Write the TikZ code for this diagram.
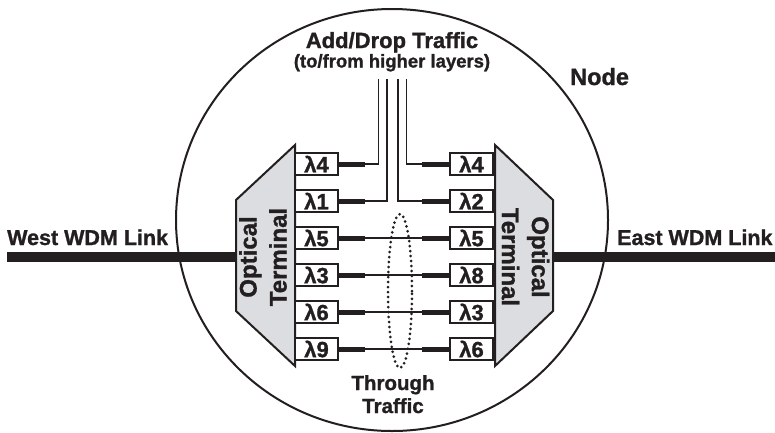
\documentclass[tikz,border=0pt]{standalone}
\usepackage{fontspec}
\setmainfont{Liberation Sans}[BoldFeatures={FakeBold=1.2}]
\definecolor{ink}{HTML}{231F20}
\definecolor{termgray}{HTML}{DCDDE0}
\tikzset{
  ink line/.style={draw=ink},
  nodecircle/.style={ink line, line width=2pt},
  wdmbar/.style={ink line, line width=10pt},
  termshape/.style={ink line, fill=termgray, line width=2pt, line join=miter},
  lambdabox/.style={draw=ink, fill=white, line width=2pt, minimum width=43pt,
    minimum height=22pt, inner sep=0pt, text=ink,
    font=\bfseries\fontsize{22}{22}\selectfont},
  stub/.style={ink line, line width=5pt},
  fiber/.style={ink line, line width=1.2pt},
  thrloop/.style={ink line, line width=3pt, dash pattern=on 0pt off 5pt, line cap=round},
  label/.style={text=ink, inner sep=0pt},
  termtext/.style={text=ink, inner sep=0pt, align=center,
    font=\bfseries\fontsize{24}{30}\selectfont},
}
\begin{document}
\begin{tikzpicture}[x=1pt,y=-1pt]
\useasboundingbox (0,0) rectangle (775,432);

% the node boundary
\draw[nodecircle] (392,220) ellipse [x radius=216pt, y radius=211pt];

% WDM links
\coordinate (westend) at (7,257);
\coordinate (eastend) at (775,257);
\coordinate (westterm) at (236,257);
\coordinate (eastterm) at (553,257);
\draw[wdmbar] (westend) -- (westterm);
\draw[wdmbar] (eastterm) -- (eastend);

% optical terminals
\draw[termshape] (295,145) -- (295,366) -- (236,311) -- (236,200) -- cycle;
\draw[termshape] (495,145) -- (553,200) -- (553,311) -- (495,366) -- cycle;
\node[termtext, rotate=90] (tl) at (263,257) {Optical\\Terminal};
\node[termtext, rotate=-90] (tr) at (525.5,257) {Optical\\Terminal};

% transponders, west side
\foreach \i/\w/\y in {1/4/164, 2/1/201, 3/5/238, 4/3/275, 5/6/312, 6/9/349} {
  \node[lambdabox] (L\i) at (316.5,\y) {λ\w};
  \coordinate (lj\i) at (365,\y);
  \draw[stub] (L\i.east) -- (lj\i);
}
% transponders, east side
\foreach \i/\w/\y in {1/4/164, 2/2/201, 3/5/238, 4/8/275, 5/3/312, 6/6/349} {
  \node[lambdabox] (R\i) at (471.5,\y) {λ\w};
  \coordinate (rj\i) at (422,\y);
  \draw[stub] (rj\i) -- (R\i.west);
}

% add/drop fibres going up
\coordinate (ad1) at (378.5,79);
\coordinate (ad2) at (387,79);
\coordinate (ad3) at (398,79);
\coordinate (ad4) at (406.5,79);
\draw[fiber] (lj1) -| (ad1);
\draw[fiber] (lj2) -| (ad2);
\draw[fiber] (rj2) -| (ad3);
\draw[fiber] (rj1) -| (ad4);

% through fibres
\foreach \i in {3,4,5,6} {
  \draw[fiber] (lj\i) -- (rj\i);
}
\draw[thrloop] (400,291) ellipse [x radius=12pt, y radius=77pt];

% labels
\node[label, anchor=base, font=\bfseries\fontsize{22}{22}\selectfont] (adt) at (392,48) {Add/Drop Traffic};
\node[label, anchor=base, font=\bfseries\fontsize{18.5}{18.5}\selectfont] (adh) at (392,67.5) {(to/from higher layers)};
\node[label, anchor=base west, font=\bfseries\fontsize{23.5}{23.5}\selectfont] (nd) at (570,85) {Node};
\node[label, anchor=base west, font=\bfseries\fontsize{21.5}{21.5}\selectfont] (wl) at (7,245) {West WDM Link};
\node[label, anchor=base west, font=\bfseries\fontsize{21.5}{21.5}\selectfont] (el) at (617,245) {East WDM Link};
\node[label, anchor=base, font=\bfseries\fontsize{20.5}{20.5}\selectfont] (th1) at (393,390) {Through};
\node[label, anchor=base, font=\bfseries\fontsize{20.5}{20.5}\selectfont] (th2) at (393,413) {Traffic};
\end{tikzpicture}
\end{document}
